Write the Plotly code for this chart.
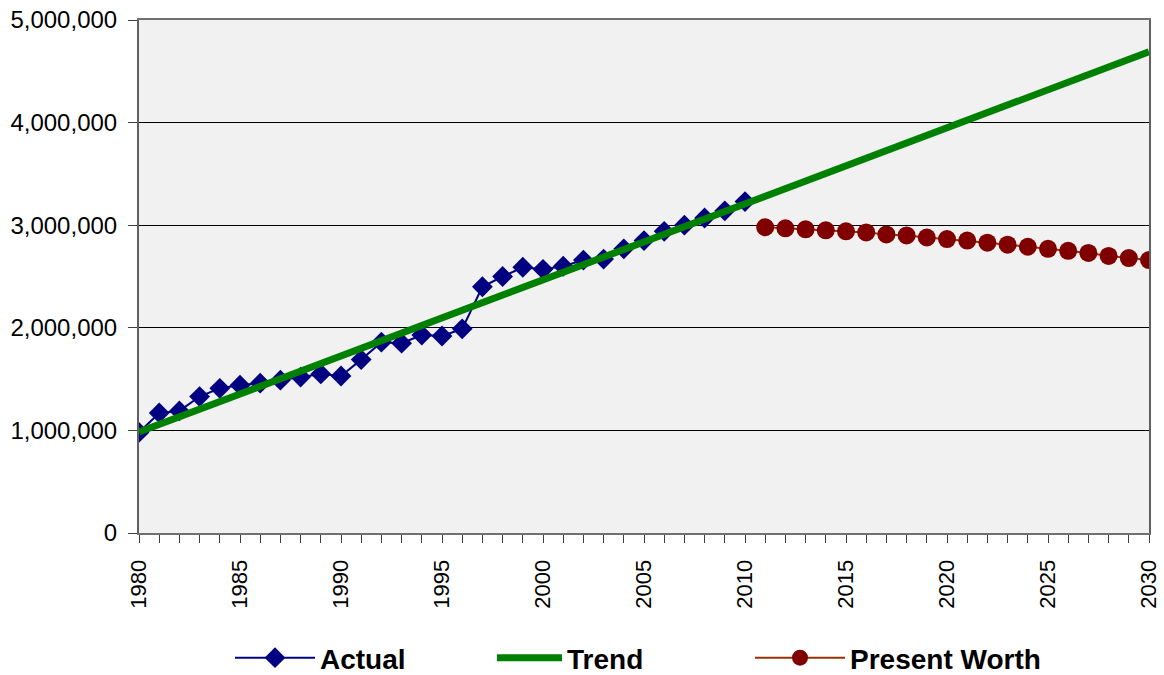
import plotly.graph_objects as go

# Observed annual values, 1980-2010
actual_years = list(range(1980, 2011))
actual_values = [
    980000, 1170000, 1190000, 1330000, 1410000, 1440000, 1460000, 1490000,
    1520000, 1550000, 1530000, 1690000, 1860000, 1850000, 1930000, 1920000,
    1990000, 2400000, 2500000, 2590000, 2570000, 2600000, 2660000, 2670000,
    2770000, 2850000, 2940000, 3000000, 3070000, 3140000, 3230000,
]

# Linear trend, end points
trend_years = [1980, 2030]
trend_values = [985000, 4690000]

# Present worth projection, 2011-2030
pw_years = list(range(2011, 2031))
pw_values = [
    2980000, 2970000, 2960000, 2950000, 2940000, 2930000, 2910000, 2900000,
    2880000, 2865000, 2850000, 2830000, 2810000, 2790000, 2770000, 2750000,
    2730000, 2700000, 2680000, 2660000,
]

FONT = "Liberation Sans, Arial, sans-serif"
W, H = 1164, 675

fig = go.Figure()

fig.add_trace(go.Scatter(
    x=actual_years, y=actual_values, name="Actual", mode="lines+markers",
    line=dict(color="#000080", width=2),
    marker=dict(symbol="diamond", size=16, color="#000080"),
    legend="legend",
))
fig.add_trace(go.Scatter(
    x=trend_years, y=trend_values, name="Trend", mode="lines",
    line=dict(color="#008000", width=7),
    legend="legend2",
))
fig.add_trace(go.Scatter(
    x=pw_years, y=pw_values, name="Present Worth", mode="lines+markers",
    line=dict(color="#993300", width=2),
    marker=dict(symbol="circle", size=18, color="#800000"),
    legend="legend3",
))

legend_font = dict(family=FONT, size=28, weight="bold", color="black")


def legend_at(px, width):
    # one legend box per series, placed in page pixels
    return dict(
        xref="container", yref="container",
        x=px / W, xanchor="left", y=1 - 658 / H, yanchor="middle",
        font=legend_font, itemwidth=width, bgcolor="rgba(0,0,0,0)",
    )


fig.update_layout(
    width=W, height=H,
    margin=dict(l=139, r=15, t=20, b=142, autoexpand=False),
    paper_bgcolor="white",
    plot_bgcolor="#f1f1f1",
    font=dict(family=FONT, size=20, color="black"),
    showlegend=True,
    legend=legend_at(230, 80),
    legend2=legend_at(492, 65),
    legend3=legend_at(750, 90),
)

fig.update_xaxes(
    range=[1980, 2030], tick0=1980, dtick=5, tickangle=-90,
    ticks="outside", ticklen=8, tickcolor="#404040", ticklabelstandoff=8,
    minor=dict(dtick=1, ticks="outside", ticklen=8, tickcolor="#404040"),
    showline=True, linecolor="#707070", linewidth=2, mirror=True,
    showgrid=False, zeroline=False, automargin=False,
    tickfont=dict(family=FONT, size=22),
)
fig.update_yaxes(
    range=[0, 5000000], dtick=1000000, tickformat=",d",
    ticks="outside", ticklen=9, tickcolor="#404040", ticklabelstandoff=6,
    showline=True, linecolor="#606060", linewidth=2, mirror=True,
    showgrid=True, gridcolor="black", gridwidth=1, zeroline=False,
    automargin=False,
    tickfont=dict(family=FONT, size=24),
)

fig.write_html("out.html")
